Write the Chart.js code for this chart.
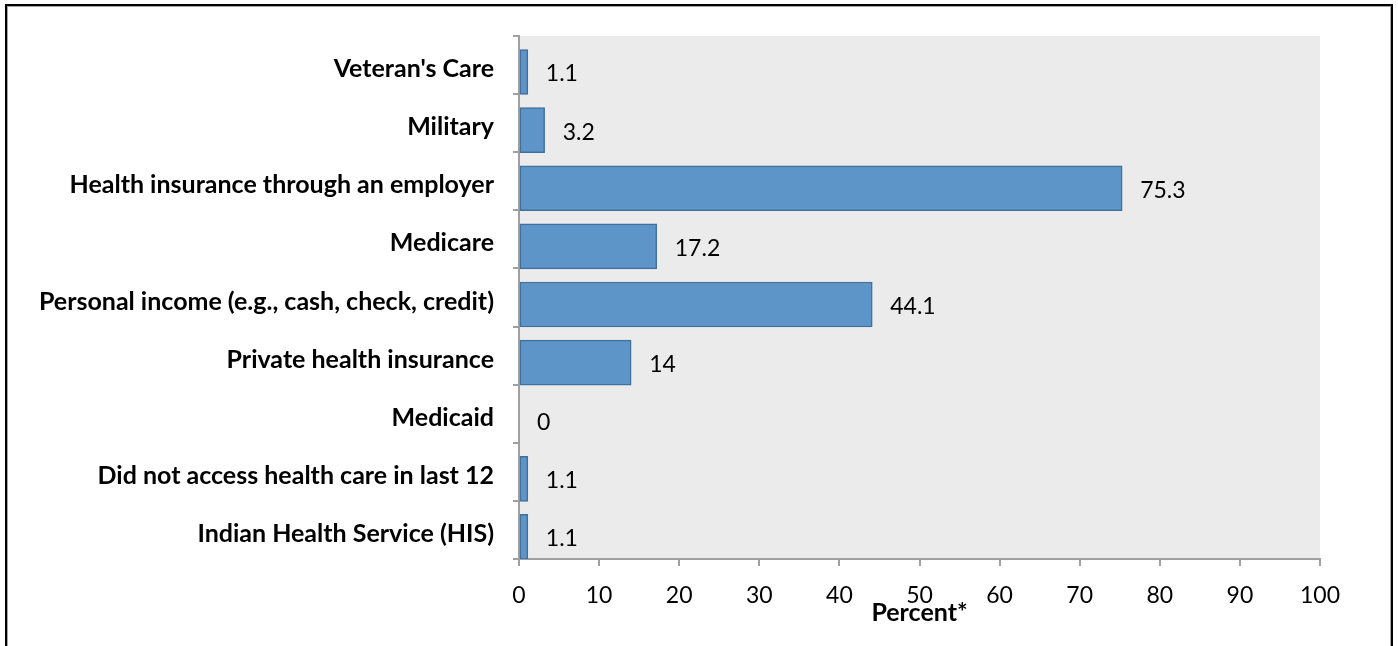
<!DOCTYPE html>
<html>
<head>
<meta charset="utf-8">
<script src="https://cdn.jsdelivr.net/npm/chart.js@4.4.1/dist/chart.umd.min.js"></script>
<style>
  html, body { margin: 0; padding: 0; background: #fff; overflow: hidden; }
  #frame {
    position: absolute; left: 5px; top: 4px; width: 1384px; height: 700px;
    border: 2px solid #000; border-bottom: none;
  }
  #inner {
    position: absolute; left: 0; top: 0; right: 0; bottom: 0;
    border: 1px solid #a6a6a6; border-bottom: none;
  }
  #wrap { position: absolute; left: 0; top: 0; width: 1398px; height: 646px; }
</style>
</head>
<body>
<div id="frame"><div id="inner"></div></div>
<div id="wrap"><canvas id="chart" width="1398" height="646"></canvas></div>
<script>
const categories = [
    "Veteran's Care",
    "Military",
    "Health insurance through an employer",
    "Medicare",
    "Personal income (e.g., cash, check, credit)",
    "Private health insurance",
    "Medicaid",
    "Did not access health care in last 12",
    "Indian Health Service (HIS)"
];
const percents = [1.1, 3.2, 75.3, 17.2, 44.1, 14, 0, 1.1, 1.1];
const xTicks = [0, 10, 20, 30, 40, 50, 60, 70, 80, 90, 100];

// fond gris de la zone de tracé
const plotBg = {
    id: "plotBg",
    beforeDraw(chart) {
        const { ctx, chartArea: a } = chart;
        ctx.save();
        ctx.fillStyle = "#ebebeb";
        ctx.fillRect(a.left, a.top, a.right - a.left, a.bottom - a.top);
        ctx.restore();
    }
};

// étiquettes de valeur à droite des barres
const valueLabels = {
    id: "valueLabels",
    afterDatasetsDraw(chart) {
        const { ctx } = chart;
        const meta = chart.getDatasetMeta(0);
        ctx.save();
        ctx.font = "23px Lato";
        ctx.fillStyle = "#000";
        ctx.textBaseline = "middle";
        ctx.textAlign = "left";
        meta.data.forEach((bar, i) => {
            ctx.fillText(String(percents[i]), bar.x + 18, bar.y + 2);
        });
        ctx.restore();
    }
};

const ctx = document.getElementById("chart").getContext("2d");
new Chart(ctx, {
    type: "bar",
    data: {
        labels: categories,
        datasets: [{
            data: percents.map((v, i) => ({ x: v, y: i })),
            yAxisID: "yBar",
            backgroundColor: "#5d95c9",
            borderColor: "#41709d",
            borderWidth: 1.5,
            borderSkipped: false,
            barThickness: 45
        }]
    },
    options: {
        indexAxis: "y",
        responsive: false,
        animation: false,
        devicePixelRatio: 1,
        layout: { padding: { top: 36, right: 78, left: 0, bottom: 0 } },
        scales: {
            x: {
                type: "linear",
                min: 0,
                max: 100,
                afterBuildTicks: axis => { axis.ticks = xTicks.map(v => ({ value: v })); },
                afterFit: axis => { axis.height = 87; },
                border: { color: "#a0a0a0", width: 2 },
                grid: { drawOnChartArea: false, drawTicks: true, tickLength: 7, color: "#a0a0a0", lineWidth: 2 },
                ticks: { color: "#000", font: { family: "Lato", size: 23 }, padding: 16, maxRotation: 0 },
                title: {
                    display: true,
                    text: "Percent*",
                    color: "#000",
                    font: { family: "Lato", size: 25, weight: "bold" },
                    padding: { top: 0, bottom: 18 }
                }
            },
            y: {
                type: "category",
                afterFit: axis => { axis.width = 519; },
                border: { color: "#a0a0a0", width: 2 },
                grid: { offset: true, drawOnChartArea: false, drawTicks: true, tickLength: 6, color: "#a0a0a0", lineWidth: 2 },
                ticks: { color: "#000", font: { family: "Lato", size: 25, weight: "bold" }, padding: 19, labelOffset: 4 }
            },
            // axe caché : les barres sont un peu décalées vers le bas dans chaque catégorie (comme l'original)
            yBar: {
                type: "linear",
                position: "left",
                display: false,
                reverse: true,
                offset: false,
                min: -0.62,
                max: 8.38
            }
        },
        plugins: {
            legend: { display: false },
            tooltip: { enabled: false }
        }
    },
    plugins: [plotBg, valueLabels]
});
</script>
</body>
</html>
